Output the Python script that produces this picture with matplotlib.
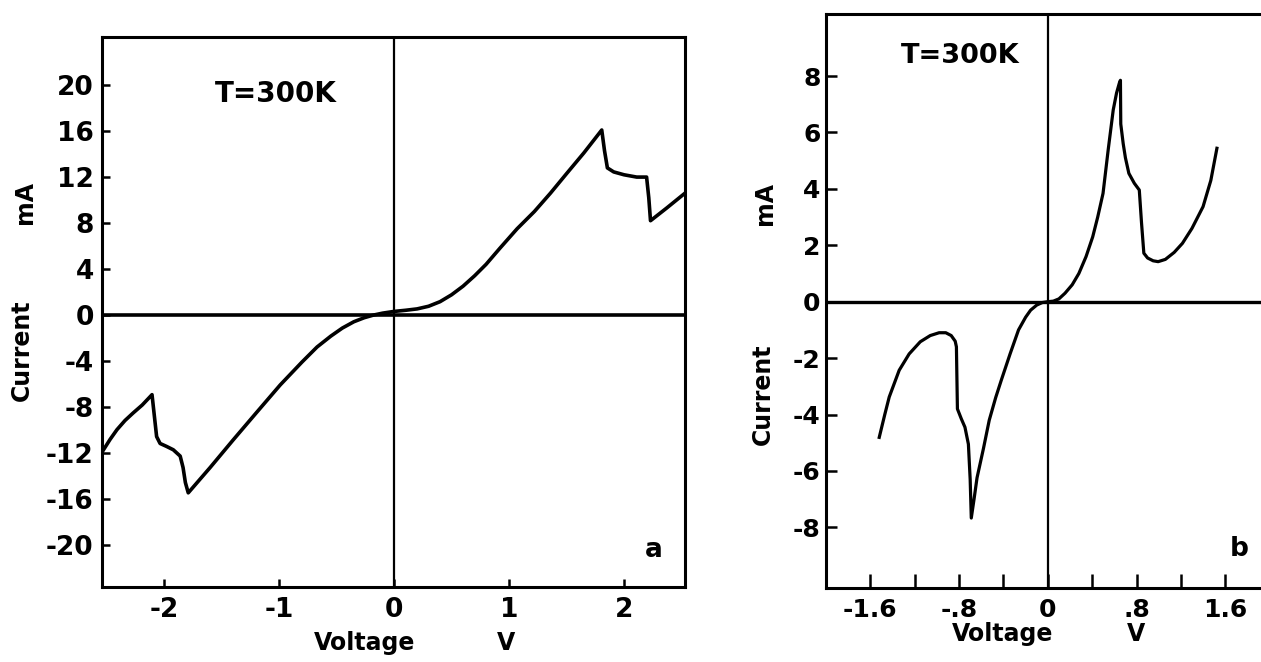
import matplotlib
matplotlib.use("Agg")
import matplotlib.pyplot as plt

plt.rcParams['font.family'] = ['DejaVu Sans']
plt.rcParams['font.weight'] = 'bold'

# ---------------- data: panel a ----------------
volt_a = [-2.53, -2.47, -2.41, -2.34, -2.27, -2.19, -2.105, -2.065, -2.035, -1.98,
          -1.92, -1.86, -1.835, -1.815, -1.79, -1.60, -1.40, -1.20, -0.99, -0.80,
          -0.67, -0.55, -0.45, -0.35, -0.26, -0.18, -0.10, 0.0, 0.10, 0.20,
          0.30, 0.40, 0.50, 0.60, 0.70, 0.80, 0.92, 1.07, 1.22, 1.36,
          1.50, 1.65, 1.806, 1.83, 1.855, 1.91, 2.00, 2.11, 2.196, 2.215,
          2.23, 2.37, 2.45, 2.53]
curr_a = [-11.8, -10.85, -10.0, -9.2, -8.55, -7.85, -6.95, -10.6, -11.2, -11.45,
          -11.75, -12.3, -13.3, -14.6, -15.5, -13.3, -10.9, -8.55, -6.1, -4.1,
          -2.8, -1.85, -1.15, -0.6, -0.25, -0.02, 0.15, 0.3, 0.4, 0.52,
          0.75, 1.15, 1.75, 2.5, 3.4, 4.4, 5.8, 7.5, 9.0, 10.6,
          12.3, 14.1, 16.1, 14.3, 12.8, 12.45, 12.2, 12.0, 12.0, 10.2,
          8.2, 9.3, 9.95, 10.6]
yticks_a = [-20, -16, -12, -8, -4, 0, 4, 8, 12, 16, 20]
xticks_a = [-2, -1, 0, 1, 2]
xlabels_a = ['-2', '-1', '0', '1', '2']

# ---------------- data: panel b ----------------
volt_b = [-1.52, -1.47, -1.43, -1.34, -1.25, -1.15, -1.06, -0.98, -0.92, -0.871,
          -0.835, -0.824, -0.820, -0.815, -0.78, -0.747, -0.716, -0.70, -0.69, -0.665,
          -0.638, -0.58, -0.528, -0.47, -0.42, -0.34, -0.264, -0.20, -0.155, -0.10,
          -0.05, 0.0, 0.05, 0.10, 0.155, 0.22, 0.28, 0.345, 0.405, 0.45,
          0.498, 0.545, 0.59, 0.62, 0.645, 0.655, 0.658, 0.68, 0.70, 0.731,
          0.78, 0.825, 0.845, 0.866, 0.90, 0.95, 0.995, 1.06, 1.14, 1.214,
          1.30, 1.40, 1.47, 1.525]
curr_b = [-4.81, -4.0, -3.38, -2.43, -1.85, -1.42, -1.2, -1.1, -1.1, -1.2,
          -1.4, -1.6, -2.6, -3.8, -4.15, -4.45, -5.05, -6.3, -7.67, -7.0,
          -6.24, -5.2, -4.2, -3.4, -2.79, -1.85, -1.0, -0.55, -0.3, -0.12,
          -0.03, 0.0, 0.02, 0.1, 0.3, 0.6, 1.0, 1.6, 2.3, 3.0,
          3.84, 5.4, 6.8, 7.4, 7.75, 7.85, 6.3, 5.6, 5.1, 4.55,
          4.2, 3.96, 2.8, 1.72, 1.55, 1.45, 1.42, 1.5, 1.75, 2.07,
          2.6, 3.37, 4.3, 5.44]
yticks_b = [-8, -6, -4, -2, 0, 2, 4, 6, 8]
xticks_b = [-1.6, -1.2, -0.8, -0.4, 0, 0.4, 0.8, 1.2, 1.6, 2.0]
xlabels_b = ['-1.6', '', '-.8', '', '0', '', '.8', '', '1.6', '']

W, H = 1261, 662
fig = plt.figure(figsize=(W / 100, H / 100), dpi=100)

def px(x0, y0, x1, y1):
    return [x0 / W, 1 - y1 / H, (x1 - x0) / W, (y1 - y0) / H]

# ---------------- panel a ----------------
axa = fig.add_axes(px(102, 37, 685, 587))
axa.plot(volt_a, curr_a, color='black', lw=2.6, solid_joinstyle='round')
axa.axhline(0, color='black', lw=2.6)
axa.axvline(0, color='black', lw=1.6)
axa.set_xlim(-2.54, 2.53)
axa.set_ylim(-23.7, 24.2)
axa.set_yticks(yticks_a)
axa.set_yticklabels([str(v) for v in yticks_a])
axa.set_xticks(xticks_a)
axa.set_xticklabels(xlabels_a)
axa.tick_params(axis='both', direction='in', length=6, width=1.8,
                labelsize=19, pad=7)
axa.tick_params(axis='y', pad=6)
for s in axa.spines.values():
    s.set_linewidth(2.2)
axa.text(-1.03, 19.2, 'T=300K', ha='center', va='center', fontsize=20,
         fontweight='bold')
axa.text(2.26, -20.5, 'a', ha='center', va='center', fontsize=19,
         fontweight='bold')

# ---------------- panel b ----------------
x0b, x1b = 826, 1285
v_left = (x0b - 1047.8) / 110.9
v_right = (x1b - 1047.8) / 110.9
axb = fig.add_axes(px(x0b, 14, x1b, 588))
axb.plot(volt_b, curr_b, color='black', lw=2.3, solid_joinstyle='round')
axb.axhline(0, color='black', lw=2.4)
axb.axvline(0, color='black', lw=1.6)
axb.set_xlim(v_left, v_right)
axb.set_ylim(-10.15, 10.2)
axb.set_yticks(yticks_b)
axb.set_yticklabels([str(v) for v in yticks_b])
axb.set_xticks(xticks_b)
axb.set_xticklabels(xlabels_b)
axb.tick_params(axis='x', direction='in', length=10, width=1.8,
                labelsize=18, pad=7)
axb.tick_params(axis='y', direction='in', length=8, width=1.8,
                labelsize=18, pad=4)
for s in axb.spines.values():
    s.set_linewidth(2.2)
axb.text(-0.79, 8.72, 'T=300K', ha='center', va='center', fontsize=19.5,
         fontweight='bold')
axb.text(1.73, -8.76, 'b', ha='center', va='center', fontsize=19,
         fontweight='bold')

# ---------------- axis labels (figure text) ----------------
def ftext(x, y, s, **kw):
    fig.text(x / W, 1 - y / H, s, ha='center', va='center',
             fontweight='bold', **kw)

ftext(22, 350, 'Current', fontsize=17, rotation=90)
ftext(25, 202, 'mA', fontsize=17, rotation=90)
ftext(365, 643, 'Voltage', fontsize=17)
ftext(506, 643, 'V', fontsize=17)

ftext(763, 394, 'Current', fontsize=17, rotation=90)
ftext(765, 203, 'mA', fontsize=17, rotation=90)
ftext(1003, 634, 'Voltage', fontsize=17)
ftext(1136, 634, 'V', fontsize=17)

fig.savefig('out.png', dpi=100)
